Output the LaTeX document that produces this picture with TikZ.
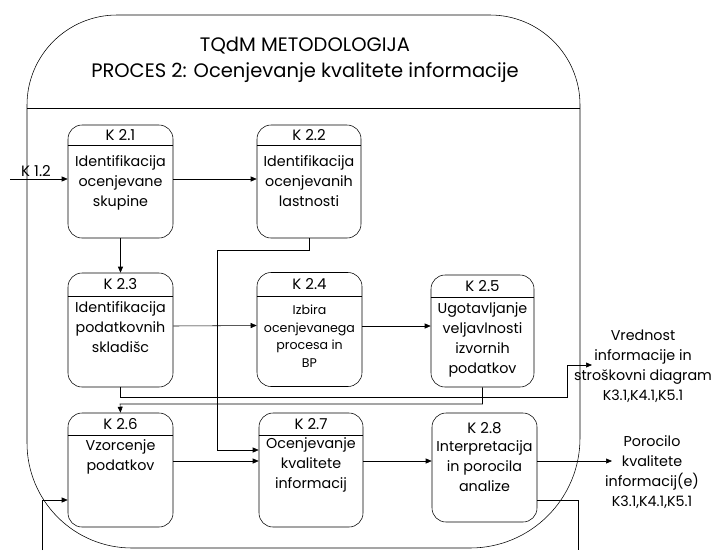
\documentclass[tikz,border=0pt]{standalone}
\usepackage{fontspec}
\setmainfont{Poppins}
\usetikzlibrary{arrows.meta,calc}
\begin{document}
\begin{tikzpicture}[x=1pt,y=-1pt,
  line width=0.55pt,
  box/.style={draw, rounded corners=14pt, minimum width=105pt, minimum height=114pt, inner sep=0pt},
  hdr/.style={font=\fontsize{15}{17}\selectfont, inner sep=0pt},
  body/.style={font=\fontsize{14.3}{20}\selectfont, align=center, inner sep=0pt, anchor=north},
  small/.style={font=\fontsize{12.6}{17.5}\selectfont, align=center, inner sep=0pt, anchor=north},
  flow/.style={-{Triangle[length=6pt,width=5pt]}},
  title/.style={font=\fontsize{19.5}{26}\selectfont, align=center, inner sep=0pt}]
\useasboundingbox (0,0) rectangle (717,550);

% outer process frame
\draw (27,300) -- (27,105)
  .. controls (27,55.3) and (67.3,15) .. (117,15)
  -- (490,15)
  .. controls (539.7,15) and (580,55.3) .. (580,105)
  -- (580,438)
  .. controls (580,498.8) and (530.8,548) .. (470,548)
  -- (132,548)
  .. controls (74,548) and (27,501) .. (27,443)
  -- cycle;
\draw (27,108) -- (580,108);
\node[title] (ttl) at (305,60) {TQdM METODOLOGIJA\\PROCES 2: Ocenjevanje kvalitete informacije};

% process boxes
\node[box, minimum height=113pt] (k21) at (120.5,181.5) {};
\node[box, minimum width=104pt, minimum height=113pt] (k22) at (309,181.5) {};
\node[box] (k23) at (120.5,330) {};
\node[box] (k24) at (309.5,329.5) {};
\node[box, minimum width=103pt, minimum height=112pt] (k25) at (482.5,331) {};
\node[box] (k26) at (120.5,470) {};
\node[box, minimum width=104pt] (k27) at (311,470) {};
\node[box, minimum height=109pt] (k28) at (484.5,467.5) {};

% header separators
\draw (k21.west |- 0,145) -- (k21.east |- 0,145);
\draw (k22.west |- 0,145) -- (k22.east |- 0,145);
\draw (k23.west |- 0,296) -- (k23.east |- 0,296);
\draw (k24.west |- 0,296) -- (k24.east |- 0,296);
\draw (k25.west |- 0,297) -- (k25.east |- 0,297);
\draw (k26.west |- 0,435) -- (k26.east |- 0,435);
\draw (k27.west |- 0,435) -- (k27.east |- 0,435);

% box texts
\node[hdr] (h21) at (120.5,135) {K 2.1};
\node[body] (t21) at (120.5,155) {Identifikacija\\ocenjevane\\skupine};
\node[hdr] (h22) at (309,135) {K 2.2};
\node[body] (t22) at (309,155) {Identifikacija\\ocenjevanih\\lastnosti};
\node[hdr] (h23) at (120.5,284.5) {K 2.3};
\node[body] (t23) at (120.5,301) {Identifikacija\\podatkovnih\\skladišc};
\node[hdr] (h24) at (309.5,284.5) {K 2.4};
\node[small] (t24) at (309.5,305) {Izbira\\ocenjevanega\\procesa in\\BP};
\node[hdr] (h25) at (482.5,286) {K 2.5};
\node[body] (t25) at (482.5,302) {Ugotavljanje\\veljavlnosti\\izvornih\\podatkov};
\node[hdr] (h26) at (120.5,424) {K 2.6};
\node[body] (t26) at (120.5,439) {Vzorcenje\\podatkov};
\node[hdr] (h27) at (311,424) {K 2.7};
\node[body] (t27) at (311,437) {Ocenjevanje\\kvalitete\\informacij};
\node[hdr] (h28) at (484.5,428) {K 2.8};
\node[body] (t28) at (484.5,440) {Interpretacija\\in porocila\\analize};

% outputs
\node[body, anchor=center] (out1) at (643,366) {Vrednost\\informacije in\\stroškovni diagram\\K3.1,K4.1,K5.1};
\node[body, anchor=center] (out2) at (652,472) {Porocilo\\kvalitete\\informacij(e)\\K3.1,K4.1,K5.1};

% connector end points
\coordinate (in12) at (10,179);
\node[hdr] (l12) at (36,171) {K 1.2};
\coordinate (j1) at (217,250);
\coordinate (v1) at (567,397);
\coordinate (o1) at (592,365);
\coordinate (v2) at (120,404);
\coordinate (o2) at (612,461);
\coordinate (c1) at (578,500);
\coordinate (e1) at (578,550);
\coordinate (c2) at (42,500);
\coordinate (e2) at (42,550);

% flows
\draw[flow] (in12) -- (in12 -| k21.west);
\draw[flow] (k21.east |- in12) -- (k22.west |- in12);
\draw[flow] (k21.south) -- (k23.north);
\draw[flow] (k22.south) |- (j1) |- ($(k27.west)+(0,-20)$);
\draw[flow] ([yshift=4pt]k23.east) -- ([yshift=4pt]k24.west);
\draw[flow] ([yshift=3.5pt]k24.east) -- ([yshift=5pt]k25.west);
\draw[flow] (k23.south) |- (v1) |- (o1);
\draw[flow] (k25.south) |- (v2) -- (k26.north);
\draw[flow] ([yshift=9pt]k26.east) -- ([yshift=9pt]k27.west);
\draw[flow] ([yshift=9pt]k27.east) -- (k28.west |- o2);
\draw[flow] (k28.east |- o2) -- (o2);
\draw (k28.east |- c1) -- (c1) -- (e1);
\draw[flow] (e2) -- (c2) -- (k26.west |- c2);
\end{tikzpicture}
\end{document}
